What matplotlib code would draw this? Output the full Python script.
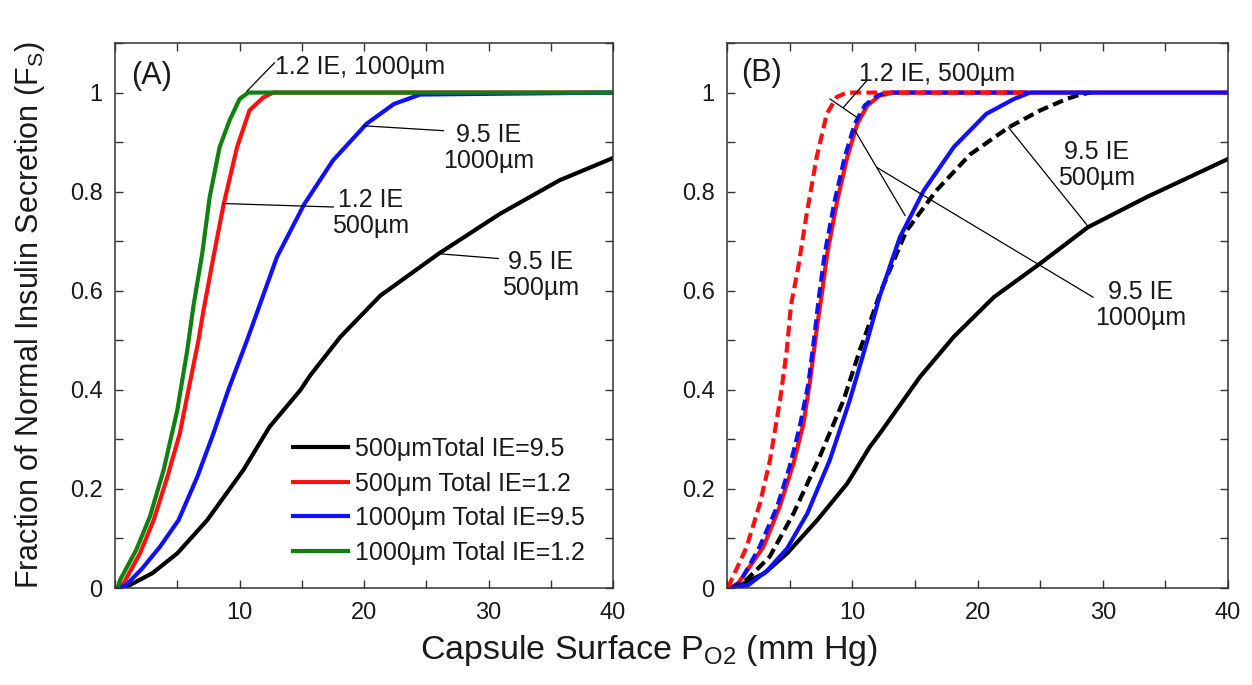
import matplotlib
matplotlib.use('Agg')
import matplotlib.pyplot as plt
from matplotlib.ticker import MultipleLocator, FuncFormatter

plt.rcParams['font.family'] = ['Liberation Sans', 'DejaVu Sans']
plt.rcParams['mathtext.default'] = 'regular'

# ---------------- Panel A data ----------------
a_black_x = [0.3, 1.2, 3.0, 5.0, 7.4, 10.3, 12.4, 14.9, 15.7, 18.1, 21.3, 26.0, 30.9, 35.7, 40.0]
a_black_y = [0.0, 0.006, 0.03, 0.07, 0.137, 0.238, 0.325, 0.40, 0.43, 0.507, 0.59, 0.675, 0.755, 0.823, 0.868]

a_red_x = [0.3, 0.7, 2.0, 3.1, 4.2, 5.2, 6.0, 6.7, 7.1, 7.9, 8.7, 9.8, 10.8, 11.9, 12.7, 40.0]
a_red_y = [0.0, 0.01, 0.07, 0.137, 0.224, 0.312, 0.413, 0.50, 0.56, 0.668, 0.772, 0.89, 0.964, 0.99, 1.0, 1.0]

a_blue_x = [0.3, 0.9, 2.2, 3.6, 5.1, 6.6, 7.9, 9.1, 10.6, 11.1, 13.0, 15.2, 17.5, 20.2, 22.4, 24.5, 40.0]
a_blue_y = [0.0, 0.006, 0.04, 0.083, 0.137, 0.224, 0.312, 0.40, 0.50, 0.535, 0.668, 0.775, 0.863, 0.937, 0.977, 0.996, 1.0]

a_green_x = [0.2, 0.4, 1.7, 2.8, 3.9, 5.0, 5.8, 6.3, 7.0, 7.6, 8.4, 9.2, 10.0, 10.7, 40.0]
a_green_y = [0.0, 0.016, 0.077, 0.144, 0.238, 0.359, 0.48, 0.57, 0.675, 0.789, 0.89, 0.944, 0.987, 1.0, 1.0]

legend_labels = ['500\u03bcmTotal IE=9.5', '500\u03bcm Total IE=1.2',
                 '1000\u03bcm Total IE=9.5', '1000\u03bcm Total IE=1.2']

# ---------------- Panel B data ----------------
b_black_x = [0.3, 1.0, 3.0, 4.8, 7.2, 9.6, 11.4, 12.2, 15.4, 18.1, 21.3, 25.0, 28.8, 33.5, 40.0]
b_black_y = [0.0, 0.005, 0.03, 0.07, 0.137, 0.211, 0.285, 0.312, 0.426, 0.507, 0.587, 0.655, 0.728, 0.789, 0.866]

b_red_x = [0.3, 0.9, 2.9, 4.2, 5.3, 6.1, 6.6, 7.2, 7.6, 8.0, 8.8, 9.6, 10.4, 11.2, 12.2, 13.3, 40.0]
b_red_y = [0.0, 0.01, 0.083, 0.164, 0.251, 0.332, 0.413, 0.53, 0.60, 0.675, 0.782, 0.87, 0.937, 0.974, 0.994, 1.0, 1.0]

b_blue_dash_x = [0.3, 1.0, 2.6, 4.0, 5.0, 5.8, 6.5, 7.0, 7.3, 7.8, 8.6, 9.4, 10.2, 11.0, 12.0, 12.8, 24.0]
b_blue_dash_y = [0.0, 0.01, 0.083, 0.164, 0.245, 0.325, 0.413, 0.513, 0.58, 0.675, 0.782, 0.87, 0.937, 0.974, 0.994, 1.0, 1.0]

b_black_dash_x = [0.3, 1.3, 3.4, 5.3, 7.4, 9.3, 10.6, 11.6, 12.2, 14.3, 16.7, 19.4, 22.5, 25.0, 27.1, 28.2, 29.0]
b_black_dash_y = [0.0, 0.01, 0.063, 0.15, 0.265, 0.379, 0.48, 0.55, 0.594, 0.72, 0.802, 0.875, 0.93, 0.964, 0.987, 0.996, 1.0]

b_blue_x = [0.3, 1.7, 3.2, 4.8, 6.4, 8.2, 9.8, 11.2, 12.2, 13.8, 15.7, 18.1, 20.7, 22.9, 24.2, 40.0]
b_blue_y = [0.0, 0.006, 0.035, 0.08, 0.15, 0.258, 0.379, 0.50, 0.59, 0.708, 0.802, 0.89, 0.957, 0.987, 1.0, 1.0]

b_red_dash_x = [0.1, 0.24, 1.57, 2.63, 3.43, 4.23, 4.77, 5.1, 5.69, 6.36, 7.16, 7.96, 8.76, 9.56, 24.0]
b_red_dash_y = [0.0, 0.01, 0.083, 0.171, 0.258, 0.379, 0.48, 0.57, 0.648, 0.755, 0.87, 0.957, 0.991, 1.0, 1.0]

RED = '#ff1010'
BLUE = '#1010ff'
GREEN = '#108010'
TXT = '#1a1a1a'
LW = 3.0

fig = plt.figure(figsize=(12.52, 6.85), dpi=100)
axA = fig.add_axes([0.0919, 0.1416, 0.3978, 0.7956])
axB = fig.add_axes([0.5807, 0.1416, 0.4002, 0.7956])


def xfmt(v, p):
    r = int(round(v))
    return str(r) if (r % 10 == 0 and r > 0) else ''


def yfmt(v, p):
    k = int(round(v * 10))
    if k % 2 != 0 or k > 10:
        return ''
    if k == 0:
        return '0'
    if k == 10:
        return '1'
    return f'{v:.1f}'


def style(ax):
    ax.set_xlim(0, 40)
    ax.set_ylim(0, 1.1)
    ax.xaxis.set_major_locator(MultipleLocator(5))
    ax.yaxis.set_major_locator(MultipleLocator(0.1))
    ax.xaxis.set_major_formatter(FuncFormatter(xfmt))
    ax.yaxis.set_major_formatter(FuncFormatter(yfmt))
    ax.tick_params(direction='in', top=True, right=True, length=6, width=1.0,
                   labelsize=17, labelcolor=TXT, color='#333333')
    ax.tick_params(axis='x', pad=10)
    ax.tick_params(axis='y', pad=9)
    for s in ax.spines.values():
        s.set_linewidth(1.1)
        s.set_color('#333333')


style(axA)
style(axB)

# Panel A curves
axA.plot(a_black_x, a_black_y, color='black', lw=LW, label=legend_labels[0])
axA.plot(a_red_x, a_red_y, color=RED, lw=LW, label=legend_labels[1])
axA.plot(a_blue_x, a_blue_y, color=BLUE, lw=LW, label=legend_labels[2])
axA.plot(a_green_x, a_green_y, color=GREEN, lw=LW, label=legend_labels[3])

leg = axA.legend(loc='lower left', bbox_to_anchor=(0.357, 0.043), frameon=False,
                 fontsize=18, handlelength=2.2, handletextpad=0.3, labelspacing=0.42,
                 borderpad=0, borderaxespad=0)
for t in leg.get_texts():
    t.set_color(TXT)

FS = 18
axA.text(1.3, 1.034, '(A)', fontsize=22, ha='left', va='center', color=TXT)
axA.text(12.85, 1.052, '1.2 IE, 1000\u00b5m', fontsize=FS, ha='left', va='center', color=TXT)
axA.plot([12.8, 10.6], [1.06, 1.003], color='black', lw=0.9)
axA.text(30.0, 0.888, '9.5 IE\n1000\u00b5m', fontsize=FS, ha='center', va='center',
         color=TXT, linespacing=1.1)
axA.plot([19.94, 26.37], [0.933, 0.923], color='black', lw=0.9)
axA.text(20.56, 0.756, '1.2 IE\n500\u00b5m', fontsize=FS, ha='center', va='center',
         color=TXT, linespacing=1.1)
axA.plot([8.70, 17.53], [0.776, 0.769], color='black', lw=0.9)
axA.text(34.2, 0.631, '9.5 IE\n500\u00b5m', fontsize=FS, ha='center', va='center',
         color=TXT, linespacing=1.1)
axA.plot([25.84, 30.79], [0.675, 0.665], color='black', lw=0.9)

# Panel B curves
axB.plot(b_black_x, b_black_y, color='black', lw=LW)
axB.plot(b_red_x, b_red_y, color=RED, lw=LW)
axB.plot(b_blue_dash_x, b_blue_dash_y, color=BLUE, lw=LW, ls=(0, (2.6, 1.3)))
axB.plot(b_black_dash_x, b_black_dash_y, color='black', lw=LW, ls=(0, (2.6, 1.3)))
axB.plot(b_blue_x, b_blue_y, color=BLUE, lw=LW)
axB.plot(b_red_dash_x, b_red_dash_y, color=RED, lw=LW, ls=(0, (2.6, 1.3)))

axB.text(1.1, 1.04, '(B)', fontsize=22, ha='left', va='center', color=TXT)
axB.text(10.5, 1.038, '1.2 IE, 500\u00b5m', fontsize=FS, ha='left', va='center', color=TXT)
axB.plot([11.15, 9.29], [1.024, 0.970], color='black', lw=0.9)
axB.plot([8.22, 10.36], [0.987, 0.950], color='black', lw=0.9)
axB.plot([10.22, 14.21], [0.923, 0.752], color='black', lw=0.9)
axB.plot([11.95, 29.22], [0.849, 0.587], color='black', lw=0.9)
axB.text(29.5, 0.853, '9.5 IE\n500\u00b5m', fontsize=FS, ha='center', va='center',
         color=TXT, linespacing=1.1)
axB.plot([22.46, 28.85], [0.930, 0.729], color='black', lw=0.9)
axB.text(33.0, 0.571, '9.5 IE\n1000\u00b5m', fontsize=FS, ha='center', va='center',
         color=TXT, linespacing=1.1)

fig.text(0.024, 0.54, 'Fraction of Normal Insulin Secretion (F$_S$)', rotation=90,
         fontsize=22, ha='center', va='center', color=TXT)
fig.text(0.518, 0.051, 'Capsule Surface P$_{O2}$ (mm Hg)', fontsize=24.5,
         ha='center', va='center', color=TXT)

fig.savefig('out.png', dpi=100)
